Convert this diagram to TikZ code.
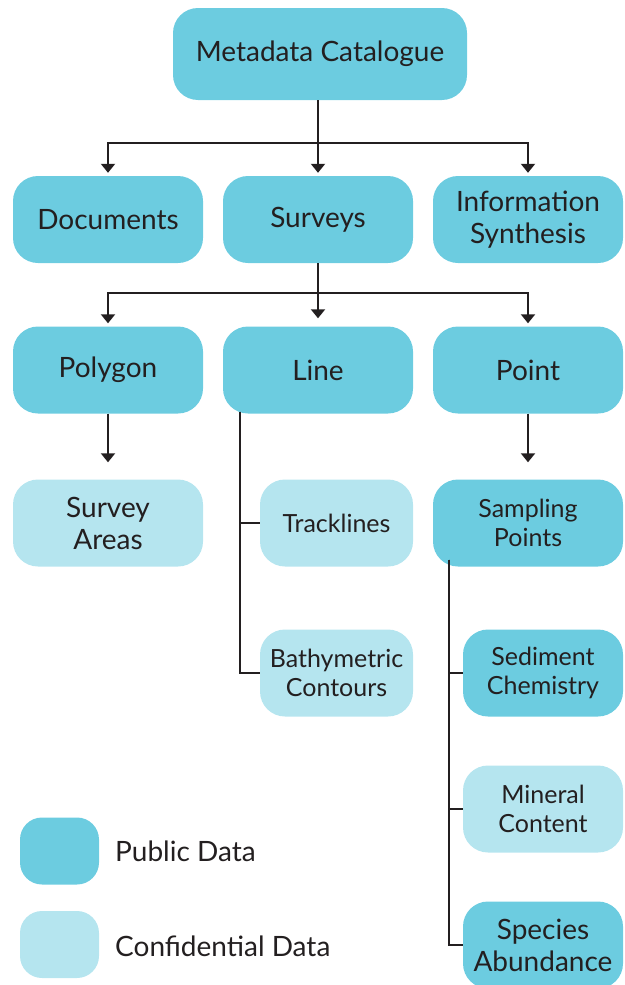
\documentclass[tikz,border=0pt]{standalone}
\usepackage{fontspec}
\setmainfont{Lato}
\usepackage{tikz}
\usetikzlibrary{arrows.meta}
\tikzstyle{chart} = [x = 1pt, y = -1pt]
\definecolor{publicColor}{RGB}{108,204,224}
\definecolor{confidentialColor}{RGB}{181,229,239}
\definecolor{inkColor}{RGB}{35,31,32}
\tikzstyle{boxStyle} = [rounded corners = 25pt, minimum width = 190pt, minimum height = 87pt, inner sep = 0pt, align = center, text = inkColor, font = \fontsize{28}{32}\selectfont]
\tikzstyle{publicStyle} = [boxStyle, fill = publicColor]
\tikzstyle{confidentialStyle} = [boxStyle, fill = confidentialColor]
\tikzstyle{smallText} = [font = \fontsize{25}{29}\selectfont]
\tikzstyle{arrowLine} = [color = inkColor, line width = 2pt, -{Triangle[width = 14pt, length = 9pt]}, shorten > = 3pt]
\tikzstyle{connLine} = [color = inkColor, line width = 2pt]
\tikzstyle{legendText} = [anchor = west, text = inkColor, inner sep = 0pt, font = \fontsize{28}{32}\selectfont]
\newcommand{\publicBox}[4]{\node [publicStyle] (#1) at (#2, #3) {#4};}
\newcommand{\confidentialBox}[4]{\node [confidentialStyle] (#1) at (#2, #3) {#4};}

\begin{document}
\begin{tikzpicture}[chart]
  \useasboundingbox (0, 0) rectangle (624, 985);
  % top level
  \node [publicStyle, minimum width = 294pt, minimum height = 92pt] (meta) at (320, 54) {Metadata Catalogue};
  \publicBox{docs}{108}{219.5}{Documents}
  \publicBox{surv}{318}{219.5}{Surveys}
  \publicBox{info}{528}{219.5}{Information\\Synthesis}
  \coordinate (splitA) at (318, 143);
  \draw [connLine] (meta.south -| splitA) -- (splitA);
  \draw [arrowLine] (splitA) -| (docs.north);
  \draw [arrowLine] (splitA) -- (surv.north);
  \draw [arrowLine] (splitA) -| (info.north);
  % survey types
  \publicBox{poly}{108}{370}{Polygon}
  \publicBox{line}{318}{370}{Line}
  \publicBox{point}{528}{370}{Point}
  \coordinate (splitB) at (318, 293);
  \draw [connLine] (surv.south) -- (splitB);
  \draw [arrowLine] (splitB) -| (poly.north);
  \draw [arrowLine, shorten > = 8pt] (splitB) -- (line.north);
  \draw [arrowLine] (splitB) -| (point.north);
  % datasets
  \confidentialBox{areas}{108}{523}{Survey\\Areas}
  \node [confidentialStyle, smallText, minimum width = 153pt] (track) at (336.5, 523) {Tracklines};
  \node [confidentialStyle, smallText, minimum width = 153pt] (bathy) at (336.5, 673) {Bathymetric\\Contours};
  \node [publicStyle, smallText] (samp) at (528, 523) {Sampling\\Points};
  \draw [arrowLine, shorten > = 17pt] (poly.south) -- (areas.north);
  \draw [arrowLine, shorten > = 17pt] (point.south) -- (samp.north);
  \draw [connLine] ([xshift = 17pt, yshift = 2pt]line.south west) |- (track.west);
  \draw [connLine] ([xshift = 17pt, yshift = 2pt]line.south west) |- (bathy.west);
  % sample measurements
  \node [publicStyle, smallText, minimum width = 160pt] (sed) at (543, 673) {Sediment\\Chemistry};
  \node [confidentialStyle, smallText, minimum width = 160pt] (mineral) at (543, 809) {Mineral\\Content};
  \node [publicStyle, minimum width = 160pt] (species) at (543, 945) {Species\\Abundance};
  \draw [connLine] ([xshift = 16pt, yshift = 7pt]samp.south west) |- (sed.west);
  \draw [connLine] ([xshift = 16pt, yshift = 7pt]samp.south west) |- (mineral.west);
  \draw [connLine] ([xshift = 16pt, yshift = 7pt]samp.south west) |- (species.west);
  % legend
  \node [publicStyle, minimum width = 79pt, minimum height = 67pt, rounded corners = 22pt] (legPub) at (59.5, 851) {};
  \node [confidentialStyle, minimum width = 79pt, minimum height = 67pt, rounded corners = 22pt] (legConf) at (59.5, 944.5) {};
  \node [legendText] (legPubText) at (115, 851) {Public Data};
  \node [legendText] (legConfText) at (115, 946) {Confidential Data};
\end{tikzpicture}
\end{document}
